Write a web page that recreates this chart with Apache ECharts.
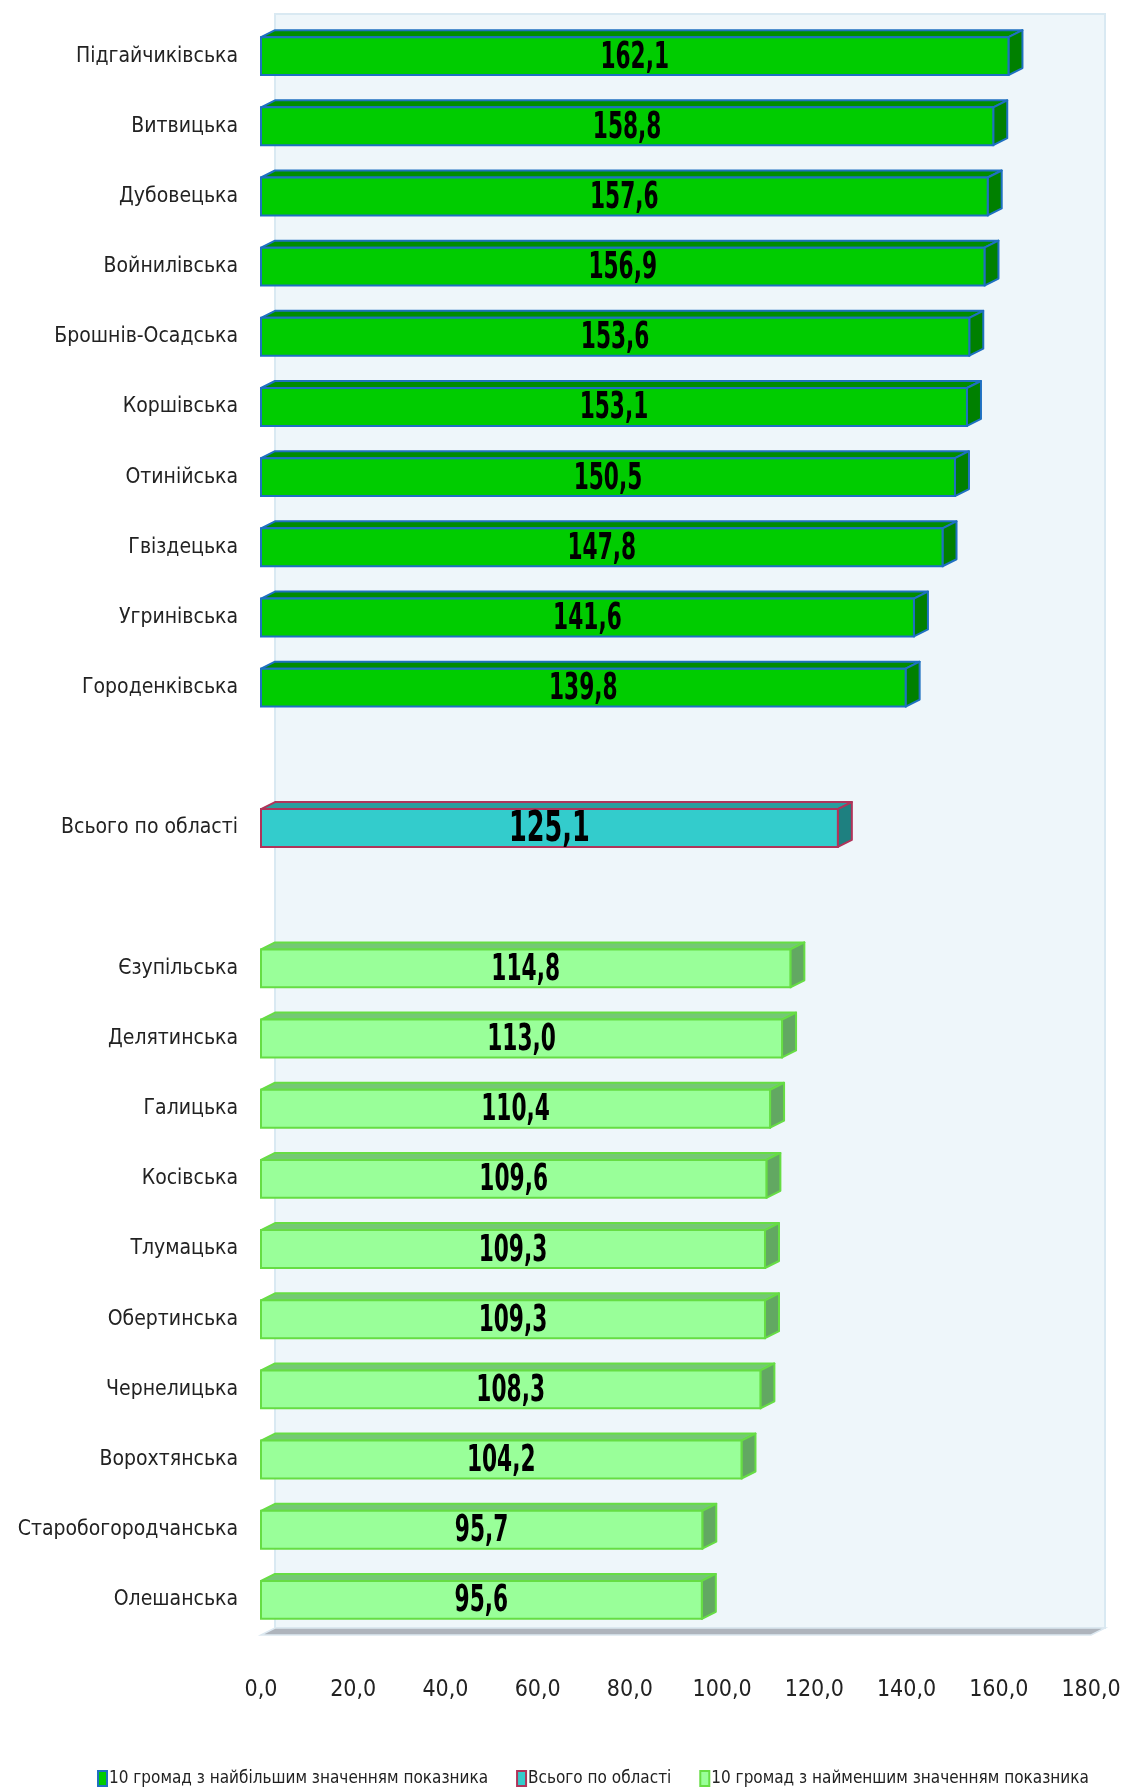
<!DOCTYPE html>
<html>
<head>
<meta charset="utf-8">
<script src="https://cdn.jsdelivr.net/npm/echarts@6/dist/echarts.min.js"></script>
<style>
html,body{margin:0;padding:0;background:#fff;}
#chart{width:1125px;height:1787px;}
</style>
</head>
<body>
<div id="chart"></div>
<script>
// ---- data ----
const topNames = ['Підгайчиківська','Витвицька','Дубовецька','Войнилівська','Брошнів-Осадська','Коршівська','Отинійська','Гвіздецька','Угринівська','Городенківська'];
const topValues = [162.1,158.8,157.6,156.9,153.6,153.1,150.5,147.8,141.6,139.8];
const totalName = 'Всього по області';
const totalValue = 125.1;
const bottomNames = ['Єзупільська','Делятинська','Галицька','Косівська','Тлумацька','Обертинська','Чернелицька','Ворохтянська','Старобогородчанська','Олешанська'];
const bottomValues = [114.8,113.0,110.4,109.6,109.3,109.3,108.3,104.2,95.7,95.6];
const xTicks = [0,20,40,60,80,100,120,140,160,180];
const seriesNames = ['10 громад з найбільшим значенням показника','Всього по області','10 громад з найменшим значенням показника'];

// ---- build ----
const categories = [...topNames, ' ', totalName, '  ', ...bottomNames];
const topData = topValues.map((v,i)=>[v,i]);
const totalData = [[totalValue, topNames.length + 1]];
const bottomData = bottomValues.map((v,i)=>[v, topNames.length + 3 + i]);

const FONT = '"DejaVu Sans Condensed","Liberation Sans Narrow","Open Sans",sans-serif';
const G = {left:261, right:34, top:21, bottom:152};
const W = 1125, H = 1787;
const DX = 14, DY = 7;

const styles = [
  {front:'#00CC00', top:'#008C00', side:'#008000', border:'#1F70C1', labelSize:34},
  {front:'#33CCCC', top:'#2A9E9E', side:'#1E8080', border:'#B0345A', labelSize:40},
  {front:'#99FF99', top:'#74C874', side:'#62A862', border:'#66DD44', labelSize:34}
];

function fmt(v){ return v.toFixed(1).replace('.', ','); }

function make3d(st){
  return function(params, api){
    const v = api.value(0), c = api.value(1);
    const p0 = api.coord([0, c]);
    const p1 = api.coord([v, c]);
    const bh = api.size([0,1])[1] * 0.54;
    const x0 = p0[0], x1 = p1[0];
    const yt = p0[1] - bh/2, yb = p0[1] + bh/2;
    const lw = 2;
    return {
      type:'group',
      children:[
        {type:'polygon', shape:{points:[[x0,yt],[x0+DX,yt-DY],[x1+DX,yt-DY],[x1,yt]]},
         style:{fill:st.top, stroke:st.border, lineWidth:lw, lineJoin:'round'}},
        {type:'polygon', shape:{points:[[x1,yt],[x1+DX,yt-DY],[x1+DX,yb-DY],[x1,yb]]},
         style:{fill:st.side, stroke:st.border, lineWidth:lw, lineJoin:'round'}},
        {type:'rect', shape:{x:x0, y:yt, width:x1-x0, height:bh},
         style:{fill:st.front, stroke:st.border, lineWidth:lw}},
        {type:'text', x:(x0+x1)/2, y:p0[1]+2, scaleX:0.71, scaleY:1.08,
         style:{text:fmt(v), fill:'#000', align:'center', verticalAlign:'middle',
                font:'bold '+st.labelSize+'px '+FONT}}
      ]
    };
  };
}

const chart = echarts.init(document.getElementById('chart'), null, {renderer:'canvas'});

const gx0 = G.left, gx1 = W - G.right, gy0 = G.top, gy1 = H - G.bottom;

chart.setOption({
  backgroundColor:'#ffffff',
  animation:false,
  graphic:[
    {type:'rect', z:-10, shape:{x:gx0+DX, y:gy0-DY, width:gx1-gx0, height:gy1-gy0},
     style:{fill:'#EEF6FA', stroke:'#D9E9F2', lineWidth:2}},
    {type:'polygon', z:-9, shape:{points:[[gx0,gy1],[gx0+DX,gy1-DY],[gx1+DX,gy1-DY],[gx1,gy1]]},
     style:{fill:'#AEB4BC', stroke:'#DCE8F0', lineWidth:1.5}}
  ],
  grid:{left:G.left, right:G.right, top:G.top, bottom:G.bottom, containLabel:false, outerBoundsMode:'none'},
  legend:{
    left:92, top:1765, itemWidth:9, itemHeight:15, itemGap:28,
    icon:'rect',
    textStyle:{fontFamily:FONT, fontSize:17, color:'#222', padding:[0,0,0,-3]},
    data:[
      {name:seriesNames[0], itemStyle:{color:styles[0].front, borderColor:styles[0].border, borderWidth:2}},
      {name:seriesNames[1], itemStyle:{color:styles[1].front, borderColor:styles[1].border, borderWidth:2}},
      {name:seriesNames[2], itemStyle:{color:styles[2].front, borderColor:styles[2].border, borderWidth:2}}
    ]
  },
  xAxis:{
    type:'value', min:0, max:180, interval:20,
    axisLine:{show:false}, axisTick:{show:false}, splitLine:{show:false},
    axisLabel:{margin:44, fontFamily:FONT, fontSize:23, color:'#222',
      formatter:function(v){ return fmt(v); }}
  },
  yAxis:{
    type:'category', inverse:true, data:categories,
    axisLine:{show:false}, axisTick:{show:false}, splitLine:{show:false},
    axisLabel:{margin:23, fontFamily:FONT, fontSize:21, color:'#222', padding:[4,0,0,0]}
  },
  series:[
    {name:seriesNames[0], type:'custom', renderItem:make3d(styles[0]), data:topData,
     encode:{x:0, y:1}, itemStyle:{color:styles[0].front}, z:5},
    {name:seriesNames[1], type:'custom', renderItem:make3d(styles[1]), data:totalData,
     encode:{x:0, y:1}, itemStyle:{color:styles[1].front}, z:5},
    {name:seriesNames[2], type:'custom', renderItem:make3d(styles[2]), data:bottomData,
     encode:{x:0, y:1}, itemStyle:{color:styles[2].front}, z:5}
  ]
});
</script>
</body>
</html>
